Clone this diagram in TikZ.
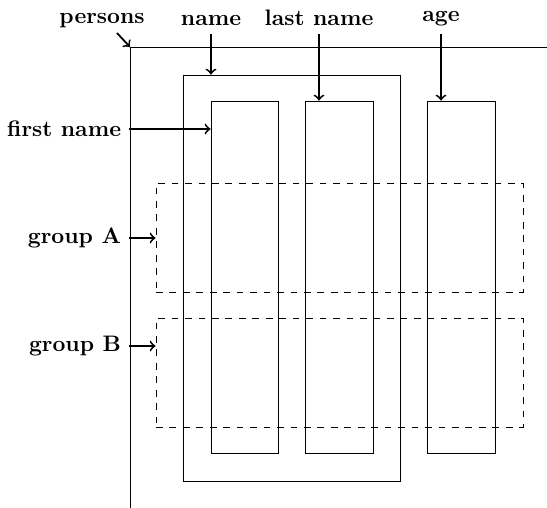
\documentclass[tikz,border=0pt]{standalone}
\usetikzlibrary{fit}
\begin{document}
\begin{tikzpicture}[x=0.446pt,y=-0.446pt,
  lbl/.style={font=\bfseries},
  box/.style={draw,inner sep=0pt},
  grp/.style={draw,dashed,inner sep=0pt},
  arr/.style={->,thick}]
\useasboundingbox (0,0) rectangle (547,508);
% axes
\coordinate (corner) at (130,47);
\coordinate (xend) at (547,47);
\coordinate (yend) at (130,508);
\draw (xend) -- (corner) -- (yend);
% boxes
\node[box,fit={(183,75) (400,481)}] (namebox) {};
\node[box,fit={(211,101) (278,453)}] (fnbox) {};
\node[box,fit={(305,101) (373,453)}] (lnbox) {};
\node[box,fit={(427,101) (495,453)}] (agebox) {};
\node[grp,fit={(156,183) (523,292)}] (ga) {};
\node[grp,fit={(156,318) (523,427)}] (gb) {};
% labels
\node[lbl,inner sep=1pt] (persons) at (102,21) {persons};
\node[lbl,anchor=south] (name) at (211,34) {name};
\node[lbl,anchor=south] (lastname) at (319,34) {last name};
\node[lbl,anchor=south] (age) at (441,34) {age};
\node[lbl,anchor=east] (firstname) at (129,129) {first name};
\node[lbl,anchor=east] (groupa) at (129,238) {group A};
\node[lbl,anchor=east] (groupb) at (129,346) {group B};
% arrows
\draw[arr] (persons) ++(15,12) -- (corner);
\draw[arr] (name.south) -- (name.south |- namebox.north);
\draw[arr] (lastname.south) -- (lastname.south |- lnbox.north);
\draw[arr] (age.south) -- (age.south |- agebox.north);
\draw[arr] (firstname.east) -- (firstname.east -| fnbox.west);
\draw[arr] (groupa.east) -- (groupa.east -| ga.west);
\draw[arr] (groupb.east) -- (groupb.east -| gb.west);
\end{tikzpicture}
\end{document}
